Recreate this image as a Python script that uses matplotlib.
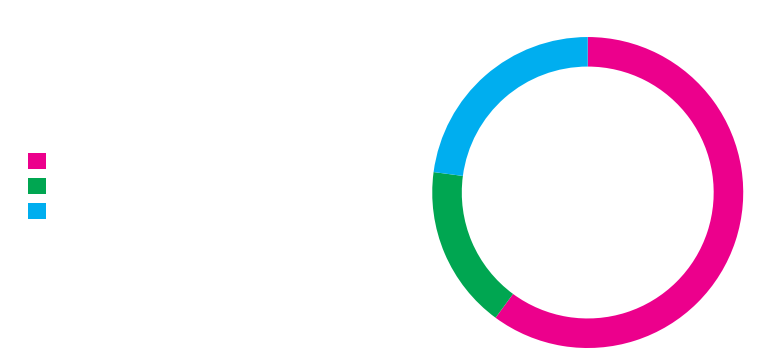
import matplotlib.pyplot as plt
from matplotlib.patches import Patch

categories = ['', '', '']
values = [60.1, 17.0, 22.9]
colors = ['#EC008C', '#00A651', '#00AEEF']

fig = plt.figure(figsize=(7.71, 3.63), dpi=100)
ax = fig.add_axes([0.5606, 0.0413, 0.4034, 0.8567])
ax.pie(values, colors=colors, startangle=90, counterclock=False, radius=1,
       wedgeprops=dict(width=0.19, edgecolor='none'))
ax.set_xlim(-1, 1)
ax.set_ylim(-1, 1)
ax.set_aspect('equal')
ax.axis('off')

handles = [Patch(facecolor=c, edgecolor='none') for c in colors]
fig.legend(handles, categories, loc='upper left',
           bbox_to_anchor=(28 / 771, 1 - 153 / 363), frameon=False,
           borderpad=0, borderaxespad=0, fontsize=13, handlelength=1,
           handleheight=1, labelspacing=0.36, handletextpad=0.5)

fig.savefig('out.png', dpi=100)
